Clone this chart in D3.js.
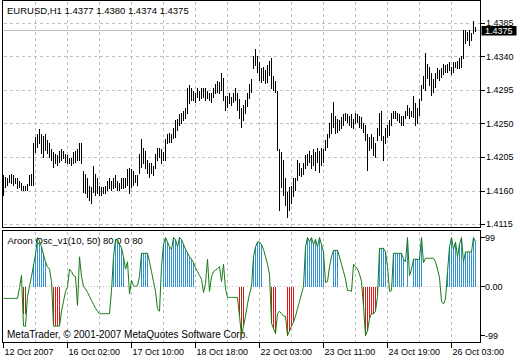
<!DOCTYPE html>
<html><head><meta charset="utf-8">
<script src="https://cdn.jsdelivr.net/npm/d3@7"></script>
<style>
html,body{margin:0;padding:0;background:#fff;}
svg{display:block;}
text{font-family:"Liberation Sans",Arial,sans-serif;fill:#000;}
</style>
</head><body>
<svg id="c" width="520" height="360"></svg>
<script>
// ---- data (EURUSD H1 bars) ----
const highs = [
1.4181,1.4179,1.4177,1.4181,1.4183,1.4181,1.4178,1.4177,1.4174,1.4171,
1.4167,1.4167,1.4170,1.4181,1.4183,1.4224,1.4232,1.4237,1.4243,1.4237,
1.4234,1.4237,1.4228,1.4225,1.4217,1.4212,1.4210,1.4208,1.4214,1.4217,
1.4214,1.4210,1.4208,1.4205,1.4205,1.4212,1.4214,1.4217,1.4225,1.4224,
1.4187,1.4183,1.4178,1.4167,1.4165,1.4194,1.4183,1.4178,1.4167,1.4165,
1.4165,1.4167,1.4174,1.4177,1.4174,1.4178,1.4181,1.4174,1.4171,1.4177,
1.4178,1.4177,1.4190,1.4191,1.4190,1.4187,1.4181,1.4181,1.4210,1.4230,
1.4218,1.4214,1.4201,1.4197,1.4198,1.4194,1.4210,1.4218,1.4218,1.4217,
1.4212,1.4230,1.4237,1.4238,1.4237,1.4244,1.4255,1.4257,1.4264,1.4265,
1.4268,1.4272,1.4298,1.4302,1.4298,1.4295,1.4292,1.4298,1.4295,1.4298,
1.4299,1.4298,1.4295,1.4292,1.4291,1.4298,1.4304,1.4308,1.4306,1.4318,
1.4312,1.4288,1.4288,1.4291,1.4286,1.4292,1.4298,1.4291,1.4284,1.4271,
1.4275,1.4282,1.4291,1.4304,1.4311,1.4342,1.4351,1.4342,1.4333,1.4325,
1.4326,1.4322,1.4329,1.4335,1.4339,1.4315,1.4308,1.4295,1.4217,1.4212,
1.4201,1.4178,1.4158,1.4165,1.4167,1.4177,1.4177,1.4201,1.4197,1.4191,
1.4197,1.4208,1.4210,1.4214,1.4208,1.4217,1.4212,1.4218,1.4214,1.4218,
1.4217,1.4228,1.4237,1.4251,1.4265,1.4279,1.4261,1.4257,1.4255,1.4259,
1.4264,1.4265,1.4264,1.4261,1.4264,1.4257,1.4265,1.4264,1.4261,1.4259,
1.4252,1.4248,1.4237,1.4232,1.4237,1.4232,1.4225,1.4245,1.4265,1.4268,
1.4234,1.4244,1.4248,1.4255,1.4265,1.4268,1.4268,1.4265,1.4264,1.4261,
1.4261,1.4268,1.4275,1.4271,1.4268,1.4288,1.4278,1.4271,1.4284,1.4302,
1.4315,1.4345,1.4331,1.4326,1.4319,1.4311,1.4318,1.4325,1.4322,1.4325,
1.4331,1.4329,1.4331,1.4333,1.4327,1.4333,1.4333,1.4335,1.4338,1.4342,
1.4376,1.4376,1.4373,1.4376,1.4372,1.4388,1.4380];
const lows = [
1.4154,1.4165,1.4167,1.4171,1.4170,1.4167,1.4170,1.4163,1.4165,1.4161,
1.4161,1.4161,1.4161,1.4167,1.4167,1.4167,1.4212,1.4218,1.4224,1.4210,
1.4205,1.4214,1.4210,1.4205,1.4201,1.4191,1.4197,1.4194,1.4198,1.4201,
1.4204,1.4198,1.4197,1.4197,1.4194,1.4197,1.4198,1.4201,1.4201,1.4197,
1.4158,1.4157,1.4151,1.4147,1.4143,1.4158,1.4154,1.4157,1.4154,1.4154,
1.4157,1.4157,1.4161,1.4163,1.4161,1.4163,1.4165,1.4161,1.4161,1.4163,
1.4163,1.4165,1.4167,1.4157,1.4165,1.4167,1.4171,1.4167,1.4183,1.4191,
1.4197,1.4190,1.4183,1.4178,1.4183,1.4181,1.4190,1.4201,1.4205,1.4197,
1.4201,1.4201,1.4224,1.4225,1.4225,1.4230,1.4232,1.4241,1.4248,1.4251,
1.4255,1.4257,1.4264,1.4278,1.4282,1.4282,1.4279,1.4286,1.4282,1.4284,
1.4286,1.4282,1.4284,1.4282,1.4279,1.4286,1.4291,1.4292,1.4291,1.4295,
1.4282,1.4268,1.4272,1.4278,1.4275,1.4279,1.4282,1.4268,1.4257,1.4245,
1.4255,1.4264,1.4273,1.4284,1.4292,1.4325,1.4329,1.4319,1.4308,1.4306,
1.4308,1.4304,1.4306,1.4315,1.4298,1.4295,1.4292,1.4214,1.4134,1.4165,
1.4154,1.4140,1.4124,1.4134,1.4143,1.4152,1.4161,1.4174,1.4181,1.4179,
1.4182,1.4190,1.4194,1.4198,1.4190,1.4194,1.4187,1.4198,1.4185,1.4194,
1.4198,1.4214,1.4218,1.4232,1.4237,1.4245,1.4237,1.4238,1.4241,1.4244,
1.4248,1.4255,1.4252,1.4248,1.4245,1.4244,1.4251,1.4252,1.4245,1.4244,
1.4238,1.4228,1.4187,1.4214,1.4217,1.4208,1.4205,1.4228,1.4234,1.4228,
1.4201,1.4224,1.4232,1.4234,1.4248,1.4257,1.4257,1.4255,1.4252,1.4248,
1.4248,1.4257,1.4261,1.4257,1.4260,1.4259,1.4248,1.4251,1.4261,1.4282,
1.4298,1.4295,1.4311,1.4302,1.4288,1.4292,1.4299,1.4311,1.4308,1.4312,
1.4316,1.4319,1.4319,1.4322,1.4316,1.4319,1.4326,1.4325,1.4325,1.4326,
1.4338,1.4358,1.4362,1.4355,1.4362,1.4372,1.4374];
// Aroon oscillator line
const osc = [
-24,-24,-24,-24,-24,-24,-24,-24,-2,22,
-80,-80,-20,0,20,43,65,99,92,80,
65,50,40,35,10,-80,-80,-80,-80,-50,
-30,-10,0,35,30,22,20,-38,60,20,
0,-5,-12,-20,-28,-36,-44,-50,-55,-55,
-55,-55,-55,-55,-8,60,95,95,85,78,
60,35,50,-15,12,2,0,2,20,67,
67,67,67,50,30,10,-10,-45,-50,40,
85,99,90,80,75,99,95,80,99,95,
85,75,68,60,55,48,38,30,22,15,
-12,6,55,-10,20,30,33,36,40,10,
45,-5,-22,-22,-22,-22,-22,-22,-60,-99,
-80,-60,-35,-15,0,60,80,90,90,85,
75,60,45,25,-74,-85,-95,-55,-50,-55,
-60,-60,-99,-90,-80,-72,-60,-45,-30,-15,
0,80,99,90,99,85,95,80,99,85,
70,8,10,40,60,73,73,73,60,45,
30,15,-8,-8,-10,45,40,35,25,10,
-40,-99,-90,-65,-55,-55,-50,-20,77,77,
77,70,40,-10,-8,67,67,67,67,67,
55,50,99,22,35,55,55,55,55,99,
48,57,57,57,57,57,50,35,18,-30,
-35,-25,30,80,99,75,90,60,85,99,
50,70,70,70,70,99,90];
// histogram (0 = no bar)
const hist = [
0,0,0,0,0,0,0,0,0,0,
-55,-55,0,0,0,43,65,99,92,80,
65,50,0,0,0,-80,-80,-80,-80,0,
0,0,0,0,0,0,0,0,0,0,
0,0,0,0,0,0,0,0,0,0,
0,0,0,0,0,60,95,95,85,78,
60,0,0,0,0,0,0,0,0,67,
67,67,67,0,0,0,0,0,0,0,
85,99,90,80,75,99,95,80,99,95,
85,75,68,60,55,48,0,0,0,0,
0,0,0,0,0,0,0,0,0,0,
0,0,0,0,0,0,0,0,-60,-99,
-80,0,0,0,0,60,80,90,90,85,
0,0,0,0,-74,-85,-95,0,0,0,
0,0,-99,-90,-80,-72,0,0,0,0,
0,80,99,90,99,85,95,80,99,85,
70,0,0,0,0,73,73,73,0,0,
0,0,0,0,0,0,0,0,0,0,
-40,-99,-90,-65,-55,-55,-50,-20,77,77,
77,70,0,0,0,67,67,67,67,67,
55,0,99,0,0,55,55,55,55,99,
0,0,0,0,0,0,0,0,0,0,
0,0,30,80,99,75,90,60,85,99,
50,70,70,70,70,99,90];
const darkBars = [10,11,25,119,134,181];

const priceTicks = [1.4115,1.4160,1.4205,1.4250,1.4295,1.4340,1.4385];
const oscTicks = [99,0,-99];
const oscTickLabels = ["99","0.00","-99"];
const timeTickIdx = [0,32,64,96,128,160,192,224];
const timeTickLabels = ["12 Oct 2007","16 Oct 02:00","17 Oct 10:00","18 Oct 18:00",
                        "22 Oct 03:00","23 Oct 11:00","24 Oct 19:00","26 Oct 03:00"];
const gridIdx = d3.range(16, 237, 16);
const lastBar = {open:1.4377, high:1.4380, low:1.4374, close:1.4375};
const symbolTitle = "EURUSD,H1";
const indName = "Aroon Osc_v1(10, 50) 80 0 0 80";
const copyright = "MetaTrader, \u00A9 2001-2007 MetaQuotes Software Corp.";

// ---- layout ----
const L = 2.5, R = 480.5, mTop = 0.5, mBot = 227.5, iTop = 230.5, iBot = 342.5;
const svg = d3.select("#c");
const x = d3.scaleLinear().domain([0, highs.length - 1]).range([3.5, 3.5 + 2*(highs.length - 1)]);
const y = d3.scaleLinear().domain([1.4115, 1.4385]).range([224.5, 23.5]);
const yo = d3.scaleLinear().domain([-99, 99]).range([335.5, 237.5]);
const gridCol = "#c0c0c0";
const px = v => Math.round(v - 0.5) + 0.5;

svg.append("rect").attr("width",520).attr("height",360).attr("fill","#fff");

// horizontal price grid
svg.append("g").selectAll("line").data(priceTicks).join("line")
  .attr("x1", L+1).attr("x2", R-1).attr("y1", d=>px(y(d))).attr("y2", d=>px(y(d)))
  .attr("stroke", gridCol).attr("stroke-dasharray","3,3").attr("shape-rendering","crispEdges");

// vertical grid in both panes
const vg = svg.append("g");
vg.selectAll("line.m").data(gridIdx).join("line").attr("class","m")
  .attr("x1", d=>x(d)).attr("x2", d=>x(d)).attr("y1", mTop+1).attr("y2", mBot-1)
  .attr("stroke", gridCol).attr("stroke-dasharray","3,3").attr("shape-rendering","crispEdges");
vg.selectAll("line.i").data(gridIdx).join("line").attr("class","i")
  .attr("x1", d=>x(d)).attr("x2", d=>x(d)).attr("y1", iTop+1).attr("y2", iBot-1)
  .attr("stroke", gridCol).attr("stroke-dasharray","3,3").attr("shape-rendering","crispEdges");

// current price line
svg.append("line").attr("x1", L+1).attr("x2", R).attr("y1", px(y(lastBar.close))).attr("y2", px(y(lastBar.close)))
  .attr("stroke", "#c0c0c0").attr("shape-rendering","crispEdges");

// title
svg.append("text").attr("x",7).attr("y",14).attr("font-size","9.5px")
  .text(symbolTitle + "  " + [lastBar.open,lastBar.high,lastBar.low,lastBar.close].map(v=>v.toFixed(4)).join(" "));

// price bars
svg.append("g").selectAll("line").data(highs).join("line")
  .attr("x1",(d,i)=>x(i)).attr("x2",(d,i)=>x(i))
  .attr("y1", d=>y(d)).attr("y2",(d,i)=>y(lows[i]) + 0.5)
  .attr("stroke","#000").attr("stroke-width",1).attr("shape-rendering","crispEdges");

// indicator: zero level
svg.append("line").attr("x1", L+1).attr("x2", R-1).attr("y1", px(yo(0))).attr("y2", px(yo(0)))
  .attr("stroke", gridCol).attr("stroke-dasharray","1,2").attr("shape-rendering","crispEdges");

// indicator texts (behind marks)
svg.append("text").attr("x",7.5).attr("y",244).attr("font-size","9.5px").text(indName);
svg.append("text").attr("x",7).attr("y",338).attr("font-size","10px").text(copyright);

// histogram as 1px-wide rects
const dark = new Set(darkBars);
const z0 = Math.round(yo(0));
svg.append("g").selectAll("rect").data(hist.map((v,i)=>({v,i})).filter(d=>d.v!==0)).join("rect")
  .attr("x", d=>x(d.i)-0.5).attr("width", 1)
  .attr("y", d=> d.v>0 ? Math.round(yo(d.v)) : z0)
  .attr("height", d=> Math.abs(Math.round(yo(d.v)) - z0))
  .attr("fill", d=> d.v>0 ? "#2f93d6" : (dark.has(d.i) ? "#7a4512" : "#e8141c"))
  .attr("shape-rendering","crispEdges");

// oscillator line
svg.append("path").datum(osc)
  .attr("d", d3.line().x((d,i)=>x(i)).y(d=>yo(d)))
  .attr("fill","none").attr("stroke","#167a16").attr("stroke-width",1);

// frames
svg.append("rect").attr("x",L).attr("y",mTop).attr("width",R-L).attr("height",mBot-mTop)
  .attr("fill","none").attr("stroke","#000").attr("shape-rendering","crispEdges");
svg.append("rect").attr("x",L).attr("y",iTop).attr("width",R-L).attr("height",iBot-iTop)
  .attr("fill","none").attr("stroke","#000").attr("shape-rendering","crispEdges");

// right price axis
const ra = svg.append("g");
ra.selectAll("line").data(priceTicks).join("line")
  .attr("x1",R).attr("x2",R+4).attr("y1",d=>px(y(d))).attr("y2",d=>px(y(d)))
  .attr("stroke","#000").attr("shape-rendering","crispEdges");
ra.selectAll("text").data(priceTicks).join("text")
  .attr("x",486).attr("y",d=>y(d)+2.5).attr("font-size","9px").text(d=>d.toFixed(4));

// current price box
const cy = px(y(lastBar.close));
svg.append("rect").attr("x",R+1).attr("y",cy-4.5).attr("width",35).attr("height",9.5).attr("fill","#000");
svg.append("text").attr("x",485).attr("y",cy+3.5).attr("font-size","9px").style("fill","#fff")
  .text(lastBar.close.toFixed(4));

// right oscillator axis
const oa = svg.append("g");
oa.selectAll("line").data(oscTicks).join("line")
  .attr("x1",R).attr("x2",R+4).attr("y1",d=>px(yo(d))).attr("y2",d=>px(yo(d)))
  .attr("stroke","#000").attr("shape-rendering","crispEdges");
oa.selectAll("text").data(oscTicks).join("text")
  .attr("x",485).attr("y",d=>yo(d)+3.5).attr("font-size","9px").text((d,i)=>oscTickLabels[i]);

// time axis
const ta = svg.append("g");
ta.selectAll("line").data(timeTickIdx).join("line")
  .attr("x1",d=>x(d)).attr("x2",d=>x(d)).attr("y1",iBot).attr("y2",iBot+5)
  .attr("stroke","#000").attr("shape-rendering","crispEdges");
ta.selectAll("text").data(timeTickIdx).join("text")
  .attr("x",d=>x(d)+1).attr("y",355).attr("font-size","9px").text((d,i)=>timeTickLabels[i]);
</script>
</body></html>
